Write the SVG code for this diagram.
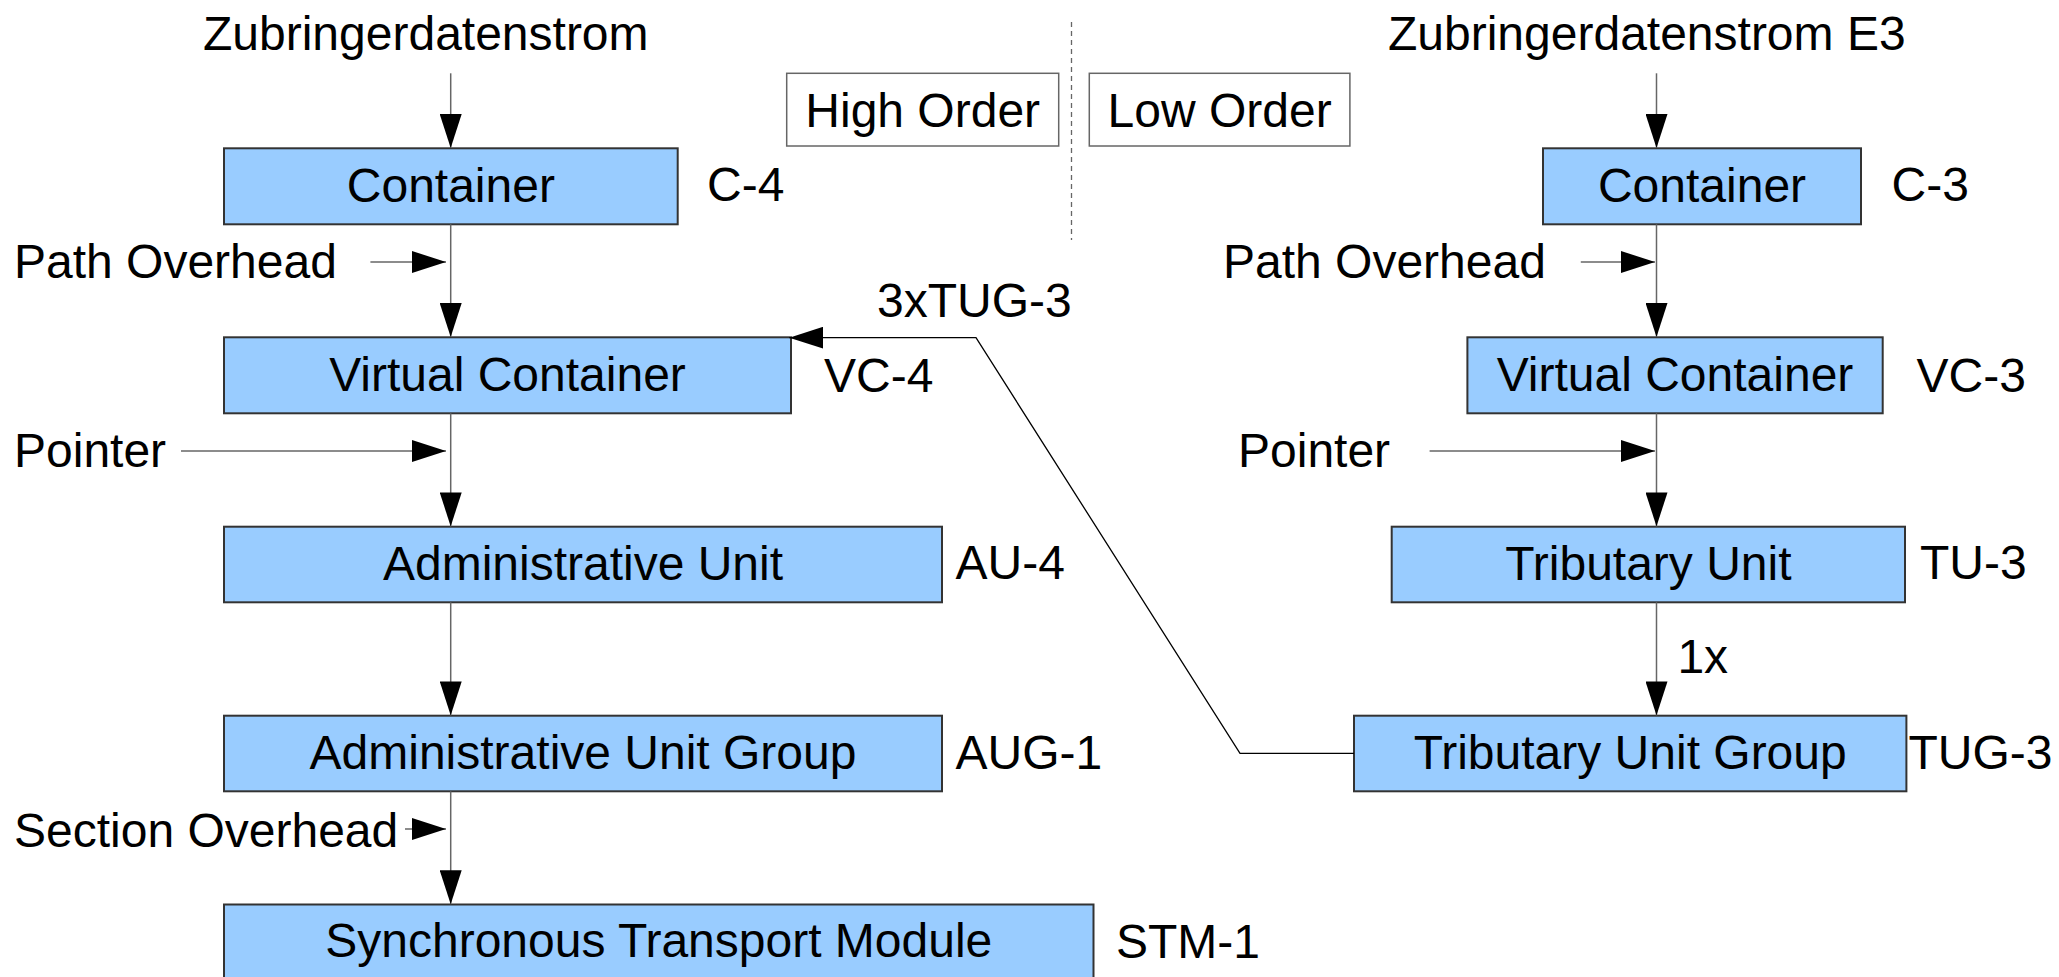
<svg xmlns="http://www.w3.org/2000/svg" width="2059" height="977" viewBox="0 0 2059 977">
  <style>
    text { font-family: "Liberation Sans", Arial, sans-serif; font-size: 48px; fill: #000; }
    .box { fill: #99ccff; stroke: #333; stroke-width: 2; }
    .tag { fill: #fff; stroke: #666; stroke-width: 1.5; }
    .mid { text-anchor: middle; }
    .flow { fill: none; stroke: #666; stroke-width: 1.5; marker-end: url(#head); }
    .link { fill: none; stroke: #000; stroke-width: 1.3; marker-end: url(#head); }
    .sep { stroke: #666; stroke-width: 1.3; stroke-dasharray: 5 4; }
  </style>
  <defs>
    <marker id="head" markerUnits="userSpaceOnUse" markerWidth="34" markerHeight="22" refX="34" refY="11" orient="auto">
      <path d="M0,0 L34,11 L0,22 Z" fill="#000"/>
    </marker>
  </defs>
  <rect width="2059" height="977" fill="#fff"/>

  <!-- section headers -->
  <g id="high-order">
    <rect class="tag" x="786.7" y="73.3" width="272" height="72.7"/>
    <text class="mid" x="922.7" y="126.7">High Order</text>
  </g>
  <g id="low-order">
    <rect class="tag" x="1089.3" y="73.3" width="260.6" height="72.7"/>
    <text class="mid" x="1219.6" y="126.7">Low Order</text>
  </g>
  <line id="divider" class="sep" x1="1071.5" y1="22" x2="1071.5" y2="240"/>

  <!-- inputs -->
  <g id="input-left"><text x="203" y="50">Zubringerdatenstrom</text></g>
  <g id="input-right"><text x="1388" y="50">Zubringerdatenstrom E3</text></g>

  <!-- high order chain -->
  <g id="c4">
    <rect class="box" x="224" y="148.3" width="453.7" height="76"/>
    <text class="mid" x="450.85" y="202">Container</text>
    <text x="707" y="201">C-4</text>
  </g>
  <g id="vc4">
    <rect class="box" x="224" y="337.3" width="567" height="76"/>
    <text class="mid" x="507.5" y="391">Virtual Container</text>
    <text x="824" y="392">VC-4</text>
  </g>
  <g id="au4">
    <rect class="box" x="224" y="526.7" width="718" height="75.6"/>
    <text class="mid" x="583" y="580">Administrative Unit</text>
    <text x="955.5" y="579">AU-4</text>
  </g>
  <g id="aug1">
    <rect class="box" x="224" y="715.7" width="718" height="75.6"/>
    <text class="mid" x="583" y="768.5">Administrative Unit Group</text>
    <text x="955.5" y="768.5">AUG-1</text>
  </g>
  <g id="stm1">
    <rect class="box" x="224" y="904.5" width="869.5" height="80"/>
    <text class="mid" x="658.75" y="957">Synchronous Transport Module</text>
    <text x="1116" y="958">STM-1</text>
  </g>

  <!-- low order chain -->
  <g id="c3">
    <rect class="box" x="1543" y="148.3" width="318" height="76"/>
    <text class="mid" x="1702" y="202">Container</text>
    <text x="1891.5" y="201">C-3</text>
  </g>
  <g id="vc3">
    <rect class="box" x="1467.4" y="337.3" width="415.3" height="76"/>
    <text class="mid" x="1675" y="391">Virtual Container</text>
    <text x="1916.5" y="392">VC-3</text>
  </g>
  <g id="tu3">
    <rect class="box" x="1391.7" y="526.7" width="513.3" height="75.6"/>
    <text class="mid" x="1648.4" y="580">Tributary Unit</text>
    <text x="1920" y="579">TU-3</text>
  </g>
  <g id="tug3">
    <rect class="box" x="1354" y="715.7" width="552.4" height="75.6"/>
    <text class="mid" x="1630.2" y="768.5">Tributary Unit Group</text>
    <text x="1908.4" y="768.5">TUG-3</text>
  </g>

  <!-- side inputs -->
  <g id="labels">
    <text x="14" y="277.7">Path Overhead</text>
    <text x="14" y="466.7">Pointer</text>
    <text x="14" y="846.7">Section Overhead</text>
    <text x="1223" y="277.7">Path Overhead</text>
    <text x="1238" y="466.7">Pointer</text>
    <text x="877" y="316.7">3xTUG-3</text>
    <text x="1677.4" y="673.3">1x</text>
  </g>

  <g id="connectors">
    <!-- left main flow -->
    <line class="flow" x1="450.7" y1="73.3" x2="450.7" y2="148"/>
    <line class="flow" x1="450.7" y1="224.3" x2="450.7" y2="337"/>
    <line class="flow" x1="450.7" y1="413.3" x2="450.7" y2="526.4"/>
    <line class="flow" x1="450.7" y1="602.3" x2="450.7" y2="715.4"/>
    <line class="flow" x1="450.7" y1="791.3" x2="450.7" y2="904.2"/>
    <!-- left side inputs -->
    <line class="flow" x1="370.4" y1="262" x2="446" y2="262"/>
    <line class="flow" x1="181" y1="451" x2="446" y2="451"/>
    <line class="flow" x1="405" y1="829" x2="446" y2="829"/>
    <!-- right main flow -->
    <line class="flow" x1="1656.5" y1="73.3" x2="1656.5" y2="148"/>
    <line class="flow" x1="1656.5" y1="224.3" x2="1656.5" y2="337"/>
    <line class="flow" x1="1656.5" y1="413.3" x2="1656.5" y2="526.4"/>
    <line class="flow" x1="1656.5" y1="602.3" x2="1656.5" y2="715.4"/>
    <!-- right side inputs -->
    <line class="flow" x1="1580.8" y1="262" x2="1655" y2="262"/>
    <line class="flow" x1="1429.6" y1="451" x2="1655" y2="451"/>
    <!-- TUG-3 multiplexed into VC-4 -->
    <polyline class="link" points="1354,753.3 1240,753.3 976,337.7 789.3,337.7"/>
  </g>
</svg>
